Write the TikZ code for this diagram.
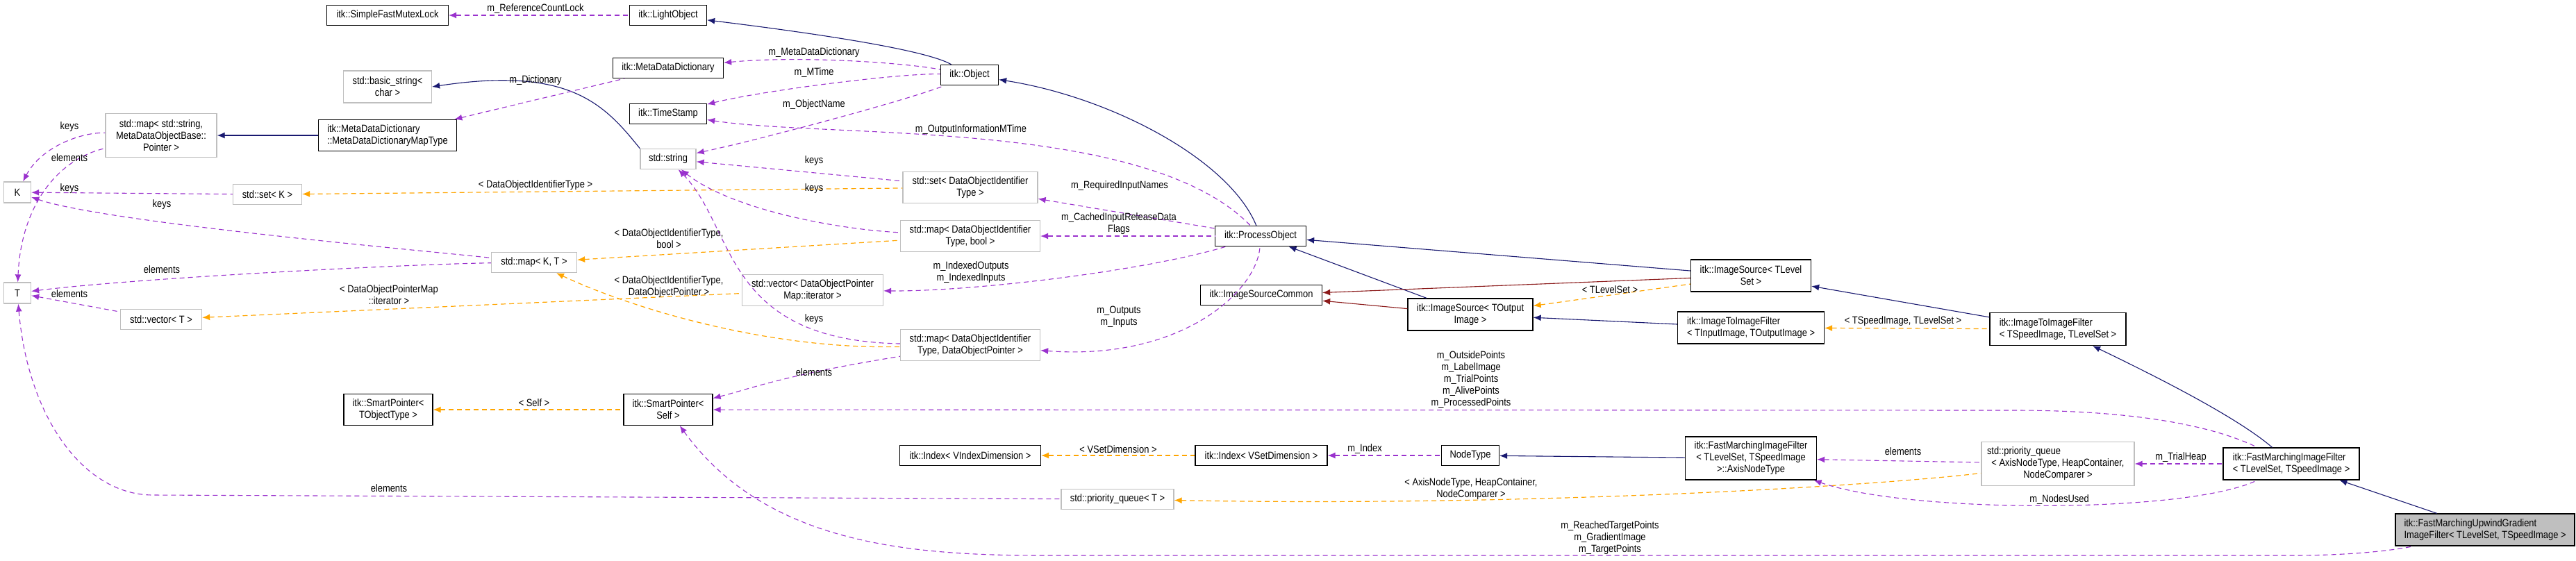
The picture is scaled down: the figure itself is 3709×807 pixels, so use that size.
\documentclass[tikz,border=0pt]{standalone}
\usepackage{fontspec}
\setmainfont[FakeStretch=0.86]{Liberation Sans}
\usetikzlibrary{arrows.meta}
\definecolor{navyc}{HTML}{191970}
\definecolor{dredc}{HTML}{8B1A1A}
\definecolor{orngc}{HTML}{FFA500}
\definecolor{purpc}{HTML}{9A32CD}
\definecolor{grayb}{HTML}{BFBFBF}
\newcommand{\dxf}{\fontsize{15}{17}\selectfont}
\begin{document}
\begin{tikzpicture}[x=1pt,y=-1pt,
 n/.style={draw=black,line width=1.3pt,fill=white,font=\dxf,inner sep=1pt,align=center},
 g/.style={n,draw=grayb},
 lb/.style={font=\dxf,align=center,inner sep=0pt},
 tip/.style={{Latex[length=11pt,width=9pt]}-},
 inh/.style={tip,draw=navyc,line width=1.1pt},
 priv/.style={tip,draw=dredc,line width=1.1pt},
 tmpl/.style={tip,draw=orngc,line width=1.2pt,dash pattern=on 7pt off 5pt},
 use/.style={tip,draw=purpc,line width=1.1pt,dash pattern=on 7pt off 5pt}]
\useasboundingbox (0,0) rectangle (3709,807);
% nodes
\node[n,minimum width=175,minimum height=29] (SFML) at (558,22) {itk::SimpleFastMutexLock};
\node[n,minimum width=111,minimum height=29] (LO) at (962,22) {itk::LightObject};
\node[g,minimum width=127,minimum height=46] (bstr) at (558,125) {std::basic\_string<\\ char >};
\node[n,minimum width=159,minimum height=29] (MDD) at (962,98) {itk::MetaDataDictionary};
\node[n,minimum width=83,minimum height=29] (Obj) at (1396,108) {itk::Object};
\node[n,minimum width=111,minimum height=29] (TS) at (962,164) {itk::TimeStamp};
\node[g,minimum width=80,minimum height=29] (str) at (962,229) {std::string};
\node[g,minimum width=160,minimum height=63] (mapS) at (232,195) {std::map< std::string,\\ MetaDataObjectBase::\\ Pointer >};
\node[n,minimum width=199,minimum height=45,align=left] (MDMT) at (558,195) {itk::MetaDataDictionary\\ ::MetaDataDictionaryMapType};
\node[g,minimum width=39,minimum height=30] (K) at (25,277) {K};
\node[g,minimum width=99,minimum height=29] (setK) at (385,280) {std::set< K >};
\node[g,minimum width=123,minimum height=29] (mapKT) at (769,378) {std::map< K, T >};
\node[g,minimum width=39,minimum height=30] (T) at (25,422) {T};
\node[g,minimum width=117,minimum height=29] (vecT) at (232,460) {std::vector< T >};
\node[n,minimum width=128,minimum height=45] (SPT) at (559,590) {itk::SmartPointer<\\ TObjectType >};
\node[g,minimum width=194,minimum height=45] (setD) at (1397,270) {std::set< DataObjectIdentifier\\ Type >};
\node[g,minimum width=201,minimum height=45] (mapDB) at (1397,340) {std::map< DataObjectIdentifier\\ Type, bool >};
\node[n,minimum width=131,minimum height=29] (PO) at (1815,340) {itk::ProcessObject};
\node[g,minimum width=203,minimum height=45] (vecD) at (1170,418) {std::vector< DataObjectPointer\\ Map::iterator >};
\node[g,minimum width=201,minimum height=45] (mapDP) at (1397,497) {std::map< DataObjectIdentifier\\ Type, DataObjectPointer >};
\node[n,minimum width=128,minimum height=45] (SPS) at (962,590) {itk::SmartPointer<\\ Self >};
\node[n,minimum width=203,minimum height=29] (IdxV) at (1397,656) {itk::Index< VIndexDimension >};
\node[n,minimum width=190,minimum height=29] (IdxS) at (1816,656) {itk::Index< VSetDimension >};
\node[g,minimum width=162,minimum height=29] (PQT) at (1609,719) {std::priority\_queue< T >};
\node[n,minimum width=175,minimum height=29] (ISC) at (1816,425) {itk::ImageSourceCommon};
\node[n,minimum width=173,minimum height=46] (ISL) at (2521,397) {itk::ImageSource< TLevel\\ Set >};
\node[n,minimum width=180,minimum height=46] (ISO) at (2117,453) {itk::ImageSource< TOutput\\ Image >};
\node[n,minimum width=211,minimum height=46,align=left] (ITI) at (2521,472) {itk::ImageToImageFilter\\ < TInputImage, TOutputImage >};
\node[n,minimum width=83,minimum height=29] (NT) at (2117,656) {NodeType};
\node[n,minimum width=189,minimum height=62] (ANT) at (2521,660) {itk::FastMarchingImageFilter\\ < TLevelSet, TSpeedImage\\ >::AxisNodeType};
\node[n,minimum width=196,minimum height=47,align=left] (ITS) at (2963,474) {itk::ImageToImageFilter\\ < TSpeedImage, TLevelSet >};
\node[g,minimum width=220,minimum height=63] (PQA) at (2963,668) {\makebox[204pt][l]{std::priority\_queue}\\ < AxisNodeType, HeapContainer,\\ NodeComparer >};
\node[n,minimum width=196,minimum height=46,align=left] (FMF) at (3299,668) {itk::FastMarchingImageFilter\\ < TLevelSet, TSpeedImage >};
\node[n,fill=grayb,minimum width=258,minimum height=46,align=left] (UP) at (3578,763) {itk::FastMarchingUpwindGradient\\ ImageFilter< TLevelSet, TSpeedImage >};
% inheritance
\draw[inh] (LO) .. controls (1150,45) and (1330,70) .. (Obj);
\draw[inh] (mapS) -- (MDMT);
\draw[inh] (bstr.east) .. controls (820,95) and (870,150) .. (str.north west);
\draw[inh] (Obj) .. controls (1600,140) and (1770,230) .. (PO);
\draw[inh] (PO) -- (ISL);
\draw[inh] (PO) -- (ISO);
\draw[inh] (ISO) -- (ITI);
\draw[inh] (ISL) -- (ITS);
\draw[inh] (ITS) .. controls (3100,540) and (3220,600) .. (FMF);
\draw[inh] (FMF) -- (UP);
\draw[inh] (NT) -- (ANT);
\draw[priv] (ISC) -- (ISL);
\draw[priv] (ISC) -- (ISO);
% template
\draw[tmpl] (ISO) -- (ISL);
\draw[tmpl] (ITI) -- (ITS);
\draw[tmpl] (setK) -- (setD);
\draw[tmpl] (mapKT) -- (mapDB);
\draw[tmpl] (mapKT) .. controls (900,440) and (1100,504) .. (mapDP);
\draw[tmpl] (vecT) -- (vecD);
\draw[tmpl] (SPT) -- (SPS);
\draw[tmpl] (IdxV) -- (IdxS);
\draw[tmpl] (PQT) .. controls (2200,730) and (2700,700) .. (PQA);
% usage
\draw[use] (SFML) -- (LO);
\draw[use] (MDD) .. controls (1150,80) and (1300,90) .. (Obj);
\draw[use] (TS) .. controls (1100,130) and (1300,105) .. (Obj);
\draw[use] (str) .. controls (1100,200) and (1320,140) .. (Obj);
\draw[use] (MDMT) -- (MDD);
\draw[use] (TS) .. controls (1200,200) and (1650,170) .. (PO);
\draw[use] (setD) -- (PO);
\draw[use] (mapDB) -- (PO);
\draw[use] (vecD) .. controls (1400,420) and (1650,390) .. (PO);
\draw[use] (mapDP) .. controls (1700,520) and (1810,420) .. (PO);
\draw[use] (str) -- (setD);
\draw[use] (str) .. controls (1050,300) and (1200,330) .. (mapDB);
\draw[use] (str) .. controls (1060,330) and (1040,490) .. (mapDP);
\draw[use] (SPS) .. controls (1080,560) and (1130,540) .. (mapDP);
\draw[use] (SPS) -- (2900,591) .. controls (3100,591) and (3200,620) .. (FMF);
\draw[use] (SPS) .. controls (1100,780) and (1300,800) .. (1500,800) -- (3300,800) .. controls (3400,800) and (3460,790) .. (UP);
\draw[use] (PQA) -- (FMF);
\draw[use] (ANT) .. controls (2750,740) and (3150,740) .. (FMF);
\draw[use] (ANT) -- (PQA);
\draw[use] (IdxS) -- (NT);
\draw[use] (K) .. controls (60,210) and (120,190) .. (mapS);
\draw[use] (T) .. controls (30,300) and (80,230) .. (mapS);
\draw[use] (K) -- (setK);
\draw[use] (K) .. controls (150,320) and (600,360) .. (mapKT);
\draw[use] (T) .. controls (200,400) and (600,380) .. (mapKT);
\draw[use] (T) -- (vecT);
\draw[use] (T) .. controls (40,600) and (120,713) .. (220,713) -- (PQT);
% labels
\node[lb] (l1) at (771,13) {m\_ReferenceCountLock};
\node[lb] (l2) at (771,116) {m\_Dictionary};
\node[lb] (l3) at (100,183) {keys};
\node[lb] (l4) at (100,227) {elements};
\node[lb] (l5) at (100,272) {keys};
\node[lb] (l6) at (233,295) {keys};
\node[lb] (l7) at (771,267) {< DataObjectIdentifierType >};
\node[lb] (l8) at (233,388) {elements};
\node[lb] (l9) at (100,423) {elements};
\node[lb] (l10) at (560,425) {< DataObjectPointerMap\\ ::iterator >};
\node[lb] (l11) at (769,580) {< Self >};
\node[lb] (l12) at (560,703) {elements};
\node[lb] (l13) at (1172,76) {m\_MetaDataDictionary};
\node[lb] (l14) at (1172,105) {m\_MTime};
\node[lb] (l15) at (1172,151) {m\_ObjectName};
\node[lb] (l16) at (1398,187) {m\_OutputInformationMTime};
\node[lb] (l17) at (1172,232) {keys};
\node[lb] (l18) at (1172,272) {keys};
\node[lb] (l19) at (1612,268) {m\_RequiredInputNames};
\node[lb] (l20) at (1611,322) {m\_CachedInputReleaseData\\ Flags};
\node[lb] (l21) at (1398,392) {m\_IndexedOutputs\\ m\_IndexedInputs};
\node[lb] (l22) at (963,344) {< DataObjectIdentifierType,\\ bool >};
\node[lb] (l23) at (963,413) {< DataObjectIdentifierType,\\ DataObjectPointer >};
\node[lb] (l24) at (1611,456) {m\_Outputs\\ m\_Inputs};
\node[lb] (l25) at (1172,460) {keys};
\node[lb] (l26) at (1172,536) {elements};
\node[lb] (l27) at (1610,647) {< VSetDimension >};
\node[lb] (l28) at (2318,417) {< TLevelSet >};
\node[lb] (l29) at (2740,463) {< TSpeedImage, TLevelSet >};
\node[lb] (l30) at (2118,547) {m\_OutsidePoints\\ m\_LabelImage\\ m\_TrialPoints\\ m\_AlivePoints\\ m\_ProcessedPoints};
\node[lb] (l31) at (2118,704) {< AxisNodeType, HeapContainer,\\ NodeComparer >};
\node[lb] (l32) at (2318,775) {m\_ReachedTargetPoints\\ m\_GradientImage\\ m\_TargetPoints};
\node[lb] (l33) at (1965,647) {m\_Index};
\node[lb] (l34) at (2740,650) {elements};
\node[lb] (l35) at (3140,659) {m\_TrialHeap};
\node[lb] (l36) at (2965,720) {m\_NodesUsed};
\end{tikzpicture}
\end{document}
